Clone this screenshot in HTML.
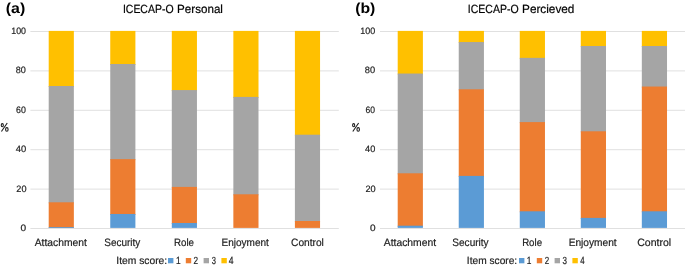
<!DOCTYPE html><html><head><meta charset="utf-8"><style>html,body{margin:0;padding:0;background:#fff;width:685px;height:267px;overflow:hidden}svg{display:block}text{font-family:"Liberation Sans",sans-serif}</style></head><body>
<svg width="685" height="267" viewBox="0 0 685 267" text-rendering="geometricPrecision">
<defs><filter id="gs" x="0" y="0" width="685" height="267" filterUnits="userSpaceOnUse"><feColorMatrix type="identity"/></filter></defs>
<rect x="0" y="0" width="685" height="267" fill="#fff"/>
<rect x="30.40" y="228.00" width="308.40" height="1" fill="#E0E0E0"/>
<rect x="30.40" y="188.60" width="308.40" height="1" fill="#E0E0E0"/>
<rect x="30.40" y="149.20" width="308.40" height="1" fill="#E0E0E0"/>
<rect x="30.40" y="109.80" width="308.40" height="1" fill="#E0E0E0"/>
<rect x="30.40" y="70.40" width="308.40" height="1" fill="#E0E0E0"/>
<rect x="30.40" y="31.00" width="308.40" height="1" fill="#E0E0E0"/>
<rect x="48.70" y="30.90" width="25.15" height="56.10" fill="#FFC000"/>
<rect x="48.70" y="86.00" width="25.15" height="117.30" fill="#A5A5A5"/>
<rect x="48.70" y="202.30" width="25.15" height="25.60" fill="#ED7D31"/>
<rect x="48.70" y="227.05" width="25.15" height="0.85" fill="#5B9BD5"/>
<rect x="110.25" y="30.90" width="25.15" height="34.10" fill="#FFC000"/>
<rect x="110.25" y="64.00" width="25.15" height="96.15" fill="#A5A5A5"/>
<rect x="110.25" y="159.15" width="25.15" height="55.83" fill="#ED7D31"/>
<rect x="110.25" y="213.98" width="25.15" height="13.92" fill="#5B9BD5"/>
<rect x="171.80" y="30.90" width="25.15" height="60.17" fill="#FFC000"/>
<rect x="171.80" y="90.07" width="25.15" height="97.83" fill="#A5A5A5"/>
<rect x="171.80" y="186.90" width="25.15" height="37.10" fill="#ED7D31"/>
<rect x="171.80" y="223.00" width="25.15" height="4.90" fill="#5B9BD5"/>
<rect x="233.35" y="30.90" width="25.15" height="67.00" fill="#FFC000"/>
<rect x="233.35" y="96.90" width="25.15" height="98.40" fill="#A5A5A5"/>
<rect x="233.35" y="194.30" width="25.15" height="33.60" fill="#ED7D31"/>
<rect x="294.90" y="30.90" width="25.15" height="104.80" fill="#FFC000"/>
<rect x="294.90" y="134.70" width="25.15" height="87.30" fill="#A5A5A5"/>
<rect x="294.90" y="221.00" width="25.15" height="6.90" fill="#ED7D31"/>
<rect x="168.00" y="258.0" width="5.4" height="5.3" fill="#5B9BD5"/>
<rect x="185.80" y="258.0" width="5.4" height="5.3" fill="#ED7D31"/>
<rect x="203.60" y="258.0" width="5.4" height="5.3" fill="#A5A5A5"/>
<rect x="221.40" y="258.0" width="5.4" height="5.3" fill="#FFC000"/>
<rect x="380.00" y="228.00" width="305.00" height="1" fill="#E0E0E0"/>
<rect x="380.00" y="188.60" width="305.00" height="1" fill="#E0E0E0"/>
<rect x="380.00" y="149.20" width="305.00" height="1" fill="#E0E0E0"/>
<rect x="380.00" y="109.80" width="305.00" height="1" fill="#E0E0E0"/>
<rect x="380.00" y="70.40" width="305.00" height="1" fill="#E0E0E0"/>
<rect x="380.00" y="31.00" width="305.00" height="1" fill="#E0E0E0"/>
<rect x="397.70" y="30.90" width="25.20" height="43.65" fill="#FFC000"/>
<rect x="397.70" y="73.55" width="25.20" height="100.75" fill="#A5A5A5"/>
<rect x="397.70" y="173.30" width="25.20" height="53.40" fill="#ED7D31"/>
<rect x="397.70" y="225.70" width="25.20" height="2.20" fill="#5B9BD5"/>
<rect x="458.73" y="30.90" width="25.20" height="12.15" fill="#FFC000"/>
<rect x="458.73" y="42.05" width="25.20" height="48.25" fill="#A5A5A5"/>
<rect x="458.73" y="89.30" width="25.20" height="87.60" fill="#ED7D31"/>
<rect x="458.73" y="175.90" width="25.20" height="52.00" fill="#5B9BD5"/>
<rect x="519.76" y="30.90" width="25.20" height="27.95" fill="#FFC000"/>
<rect x="519.76" y="57.85" width="25.20" height="65.25" fill="#A5A5A5"/>
<rect x="519.76" y="122.10" width="25.20" height="90.20" fill="#ED7D31"/>
<rect x="519.76" y="211.30" width="25.20" height="16.60" fill="#5B9BD5"/>
<rect x="580.79" y="30.90" width="25.20" height="16.10" fill="#FFC000"/>
<rect x="580.79" y="46.00" width="25.20" height="86.30" fill="#A5A5A5"/>
<rect x="580.79" y="131.30" width="25.20" height="87.60" fill="#ED7D31"/>
<rect x="580.79" y="217.90" width="25.20" height="10.00" fill="#5B9BD5"/>
<rect x="641.82" y="30.90" width="25.20" height="16.10" fill="#FFC000"/>
<rect x="641.82" y="46.00" width="25.20" height="41.55" fill="#A5A5A5"/>
<rect x="641.82" y="86.55" width="25.20" height="125.75" fill="#ED7D31"/>
<rect x="641.82" y="211.30" width="25.20" height="16.60" fill="#5B9BD5"/>
<rect x="519.00" y="258.0" width="5.4" height="5.3" fill="#5B9BD5"/>
<rect x="536.80" y="258.0" width="5.4" height="5.3" fill="#ED7D31"/>
<rect x="554.60" y="258.0" width="5.4" height="5.3" fill="#A5A5A5"/>
<rect x="572.40" y="258.0" width="5.4" height="5.3" fill="#FFC000"/>
<g filter="url(#gs)">
<g transform="translate(-351.35,0)" fill="none" stroke="#1e1e1e" stroke-width="1.1"><ellipse cx="353.65" cy="125.2" rx="1.05" ry="1.55"/><ellipse cx="358.2" cy="129.45" rx="1.25" ry="1.8"/><path d="M352.8 131.5L358.6 123.0"/></g>
<g transform="translate(0.00,0)" fill="none" stroke="#1e1e1e" stroke-width="1.1"><ellipse cx="353.65" cy="125.2" rx="1.05" ry="1.55"/><ellipse cx="358.2" cy="129.45" rx="1.25" ry="1.8"/><path d="M352.8 131.5L358.6 123.0"/></g>
<text x="5.73" y="12.50" font-size="14.4" font-weight="bold" fill="#000" textLength="19.48" lengthAdjust="spacingAndGlyphs">(a)</text>
<text x="355.18" y="12.50" font-size="14.4" font-weight="bold" fill="#000" textLength="20.13" lengthAdjust="spacingAndGlyphs">(b)</text>
<text x="122.92" y="13.10" font-size="11.9" font-weight="normal" fill="#000" stroke="#000" stroke-width="0.2" textLength="50.64" lengthAdjust="spacingAndGlyphs">ICECAP-O</text>
<text x="177.06" y="13.10" font-size="11.9" font-weight="normal" fill="#000" stroke="#000" stroke-width="0.2" textLength="45.90" lengthAdjust="spacingAndGlyphs">Personal</text>
<text x="467.83" y="13.10" font-size="11.9" font-weight="normal" fill="#000" stroke="#000" stroke-width="0.2" textLength="50.80" lengthAdjust="spacingAndGlyphs">ICECAP-O</text>
<text x="522.02" y="13.10" font-size="11.9" font-weight="normal" fill="#000" stroke="#000" stroke-width="0.2" textLength="52.41" lengthAdjust="spacingAndGlyphs">Percieved</text>
<text x="34.74" y="246.00" font-size="10.7" font-weight="normal" fill="#1e1e1e" stroke="#1e1e1e" stroke-width="0.2" textLength="52.08" lengthAdjust="spacingAndGlyphs">Attachment</text>
<text x="104.35" y="246.00" font-size="10.7" font-weight="normal" fill="#1e1e1e" stroke="#1e1e1e" stroke-width="0.2" textLength="35.98" lengthAdjust="spacingAndGlyphs">Security</text>
<text x="173.97" y="246.00" font-size="10.7" font-weight="normal" fill="#1e1e1e" stroke="#1e1e1e" stroke-width="0.2" textLength="19.98" lengthAdjust="spacingAndGlyphs">Role</text>
<text x="221.59" y="246.00" font-size="10.7" font-weight="normal" fill="#1e1e1e" stroke="#1e1e1e" stroke-width="0.2" textLength="47.28" lengthAdjust="spacingAndGlyphs">Enjoyment</text>
<text x="291.04" y="246.00" font-size="10.7" font-weight="normal" fill="#1e1e1e" stroke="#1e1e1e" stroke-width="0.2" textLength="32.82" lengthAdjust="spacingAndGlyphs">Control</text>
<text x="383.78" y="246.00" font-size="10.7" font-weight="normal" fill="#1e1e1e" stroke="#1e1e1e" stroke-width="0.2" textLength="52.36" lengthAdjust="spacingAndGlyphs">Attachment</text>
<text x="452.35" y="246.00" font-size="10.7" font-weight="normal" fill="#1e1e1e" stroke="#1e1e1e" stroke-width="0.2" textLength="36.26" lengthAdjust="spacingAndGlyphs">Security</text>
<text x="522.14" y="246.00" font-size="10.7" font-weight="normal" fill="#1e1e1e" stroke="#1e1e1e" stroke-width="0.2" textLength="19.89" lengthAdjust="spacingAndGlyphs">Role</text>
<text x="568.69" y="246.00" font-size="10.7" font-weight="normal" fill="#1e1e1e" stroke="#1e1e1e" stroke-width="0.2" textLength="48.01" lengthAdjust="spacingAndGlyphs">Enjoyment</text>
<text x="637.23" y="246.00" font-size="10.7" font-weight="normal" fill="#1e1e1e" stroke="#1e1e1e" stroke-width="0.2" textLength="33.87" lengthAdjust="spacingAndGlyphs">Control</text>
<text x="116.27" y="263.70" font-size="10.4" font-weight="normal" fill="#1e1e1e" stroke="#1e1e1e" stroke-width="0.2" textLength="50.93" lengthAdjust="spacingAndGlyphs">Item score:</text>
<text x="466.85" y="263.70" font-size="10.4" font-weight="normal" fill="#1e1e1e" stroke="#1e1e1e" stroke-width="0.2" textLength="50.32" lengthAdjust="spacingAndGlyphs">Item score:</text>
<text x="175.98" y="263.70" font-size="10.4" font-weight="normal" fill="#1e1e1e" stroke="#1e1e1e" stroke-width="0.2" textLength="4.63" lengthAdjust="spacingAndGlyphs">1</text>
<text x="193.54" y="263.70" font-size="10.4" font-weight="normal" fill="#1e1e1e" stroke="#1e1e1e" stroke-width="0.2" textLength="4.59" lengthAdjust="spacingAndGlyphs">2</text>
<text x="211.69" y="263.70" font-size="10.4" font-weight="normal" fill="#1e1e1e" stroke="#1e1e1e" stroke-width="0.2" textLength="4.21" lengthAdjust="spacingAndGlyphs">3</text>
<text x="228.80" y="263.70" font-size="10.4" font-weight="normal" fill="#1e1e1e" stroke="#1e1e1e" stroke-width="0.2" textLength="4.77" lengthAdjust="spacingAndGlyphs">4</text>
<text x="526.77" y="263.70" font-size="10.4" font-weight="normal" fill="#1e1e1e" stroke="#1e1e1e" stroke-width="0.2" textLength="4.66" lengthAdjust="spacingAndGlyphs">1</text>
<text x="544.66" y="263.70" font-size="10.4" font-weight="normal" fill="#1e1e1e" stroke="#1e1e1e" stroke-width="0.2" textLength="4.46" lengthAdjust="spacingAndGlyphs">2</text>
<text x="562.44" y="263.70" font-size="10.4" font-weight="normal" fill="#1e1e1e" stroke="#1e1e1e" stroke-width="0.2" textLength="4.46" lengthAdjust="spacingAndGlyphs">3</text>
<text x="580.22" y="263.70" font-size="10.4" font-weight="normal" fill="#1e1e1e" stroke="#1e1e1e" stroke-width="0.2" textLength="4.35" lengthAdjust="spacingAndGlyphs">4</text>
<text x="20.56" y="231.07" font-size="9.2" font-weight="normal" fill="#1e1e1e" stroke="#1e1e1e" stroke-width="0.2" textLength="5.64" lengthAdjust="spacingAndGlyphs">0</text>
<text x="16.36" y="191.67" font-size="9.2" font-weight="normal" fill="#1e1e1e" stroke="#1e1e1e" stroke-width="0.2" textLength="10.14" lengthAdjust="spacingAndGlyphs">20</text>
<text x="15.70" y="152.27" font-size="9.2" font-weight="normal" fill="#1e1e1e" stroke="#1e1e1e" stroke-width="0.2" textLength="10.45" lengthAdjust="spacingAndGlyphs">40</text>
<text x="16.11" y="112.87" font-size="9.2" font-weight="normal" fill="#1e1e1e" stroke="#1e1e1e" stroke-width="0.2" textLength="9.80" lengthAdjust="spacingAndGlyphs">60</text>
<text x="15.63" y="73.47" font-size="9.2" font-weight="normal" fill="#1e1e1e" stroke="#1e1e1e" stroke-width="0.2" textLength="10.10" lengthAdjust="spacingAndGlyphs">80</text>
<text x="11.26" y="34.07" font-size="9.2" font-weight="normal" fill="#1e1e1e" stroke="#1e1e1e" stroke-width="0.2" textLength="14.73" lengthAdjust="spacingAndGlyphs">100</text>
<text x="369.90" y="231.07" font-size="9.2" font-weight="normal" fill="#1e1e1e" stroke="#1e1e1e" stroke-width="0.2" textLength="5.59" lengthAdjust="spacingAndGlyphs">0</text>
<text x="365.48" y="191.67" font-size="9.2" font-weight="normal" fill="#1e1e1e" stroke="#1e1e1e" stroke-width="0.2" textLength="10.21" lengthAdjust="spacingAndGlyphs">20</text>
<text x="365.10" y="152.27" font-size="9.2" font-weight="normal" fill="#1e1e1e" stroke="#1e1e1e" stroke-width="0.2" textLength="10.20" lengthAdjust="spacingAndGlyphs">40</text>
<text x="365.54" y="112.87" font-size="9.2" font-weight="normal" fill="#1e1e1e" stroke="#1e1e1e" stroke-width="0.2" textLength="9.51" lengthAdjust="spacingAndGlyphs">60</text>
<text x="364.81" y="73.47" font-size="9.2" font-weight="normal" fill="#1e1e1e" stroke="#1e1e1e" stroke-width="0.2" textLength="10.35" lengthAdjust="spacingAndGlyphs">80</text>
<text x="360.36" y="34.07" font-size="9.2" font-weight="normal" fill="#1e1e1e" stroke="#1e1e1e" stroke-width="0.2" textLength="14.95" lengthAdjust="spacingAndGlyphs">100</text>
</g>
</svg></body></html>
